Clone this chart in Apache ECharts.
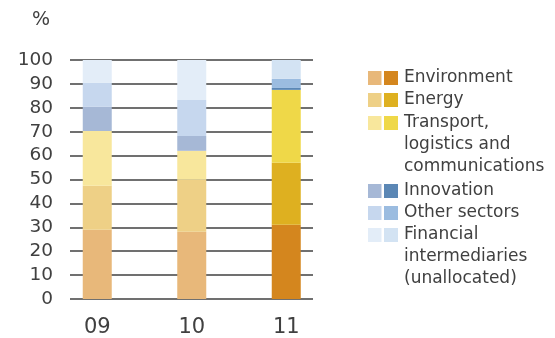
<!DOCTYPE html>
<html><head><meta charset="utf-8">
<script src="https://cdn.jsdelivr.net/npm/echarts@6/dist/echarts.min.js"></script>
<style>html,body{margin:0;padding:0;background:#fff}#c{width:555px;height:338px}</style>
</head><body><div id="c"></div>
<script>
var categories = ['09', '10', '11'];
var sectors = ['Environment', 'Energy', 'Transport, logistics and communications', 'Innovation', 'Other sectors', 'Financial intermediaries (unallocated)'];
var legendLines = [['Environment'], ['Energy'], ['Transport,', 'logistics and', 'communications'], ['Innovation'], ['Other sectors'], ['Financial', 'intermediaries', '(unallocated)']];
var environment = [29.0, 28.1, 31.1];
var energy = [18.4, 21.8, 25.9];
var transport = [22.9, 12.1, 30.5];
var innovation = [10.1, 6.2, 0.8];
var otherSectors = [10.0, 15.1, 3.8];
var financial = [9.6, 16.7, 7.9];
var yTicks = [0, 10, 20, 30, 40, 50, 60, 70, 80, 90, 100];

var values = [environment, energy, transport, innovation, otherSectors, financial];
var lightColors = ['#e8b87a', '#eed086', '#f8e79c', '#a6b8d6', '#c6d7ee', '#e3edf8'];
var darkColors = ['#d4861e', '#deb020', '#efd848', '#5b87b5', '#9bbce0', '#d3e3f3'];
var FONT = 'DejaVu Sans';
var TXT = '#404040';

var series = values.map(function (arr, i) {
  return {
    name: sectors[i], type: 'bar', stack: 'all', xAxisIndex: 1, yAxisIndex: 1,
    barWidth: 29,
    data: arr.map(function (v, j) {
      return { value: v, itemStyle: { color: j === 2 ? darkColors[i] : lightColors[i] } };
    })
  };
});

var graphic = [{ type: 'text', left: 32, top: 11, style: { text: '%', font: '19px "' + FONT + '"', fill: TXT } }];
var rowY = [78, 100, 123, 191, 213, 235];
legendLines.forEach(function (lines, i) {
  var cy = rowY[i];
  graphic.push({ type: 'rect', shape: { x: 368, y: cy - 7, width: 13.5, height: 14 }, style: { fill: lightColors[i] } });
  graphic.push({ type: 'rect', shape: { x: 384, y: cy - 7, width: 14, height: 14 }, style: { fill: darkColors[i] } });
  lines.forEach(function (t, k) {
    graphic.push({ type: 'text', x: 404, y: cy + k * 22, style: { text: t, font: '17px "' + FONT + '"', fill: TXT, textVerticalAlign: 'middle', verticalAlign: 'middle' } });
  });
});

var chart = echarts.init(document.getElementById('c'));
chart.setOption({
  animation: false,
  grid: [
    { left: 70, right: 242, top: 60, bottom: 39 },
    { left: 50, width: 283.5, top: 60, bottom: 39 }
  ],
  xAxis: [
    { type: 'value', gridIndex: 0, show: false, min: 0, max: 1 },
    { type: 'category', gridIndex: 1, data: categories, axisLine: { show: false }, axisTick: { show: false },
      axisLabel: { fontSize: 21, fontFamily: FONT, color: TXT, margin: 18 } }
  ],
  yAxis: [
    { type: 'value', gridIndex: 0, min: 0, max: 100, interval: 10,
      axisLine: { show: false }, axisTick: { show: false },
      axisLabel: { fontSize: 18.5, fontFamily: FONT, color: TXT, margin: 17,
        formatter: function (v) { return yTicks.indexOf(v) >= 0 ? String(v) : ''; } },
      splitLine: { lineStyle: { color: '#707070', width: 2 } } },
    { type: 'value', gridIndex: 1, min: 0, max: 100, interval: 10, show: false, splitLine: { show: false } }
  ],
  series: series,
  graphic: graphic
});
</script>
</body></html>
